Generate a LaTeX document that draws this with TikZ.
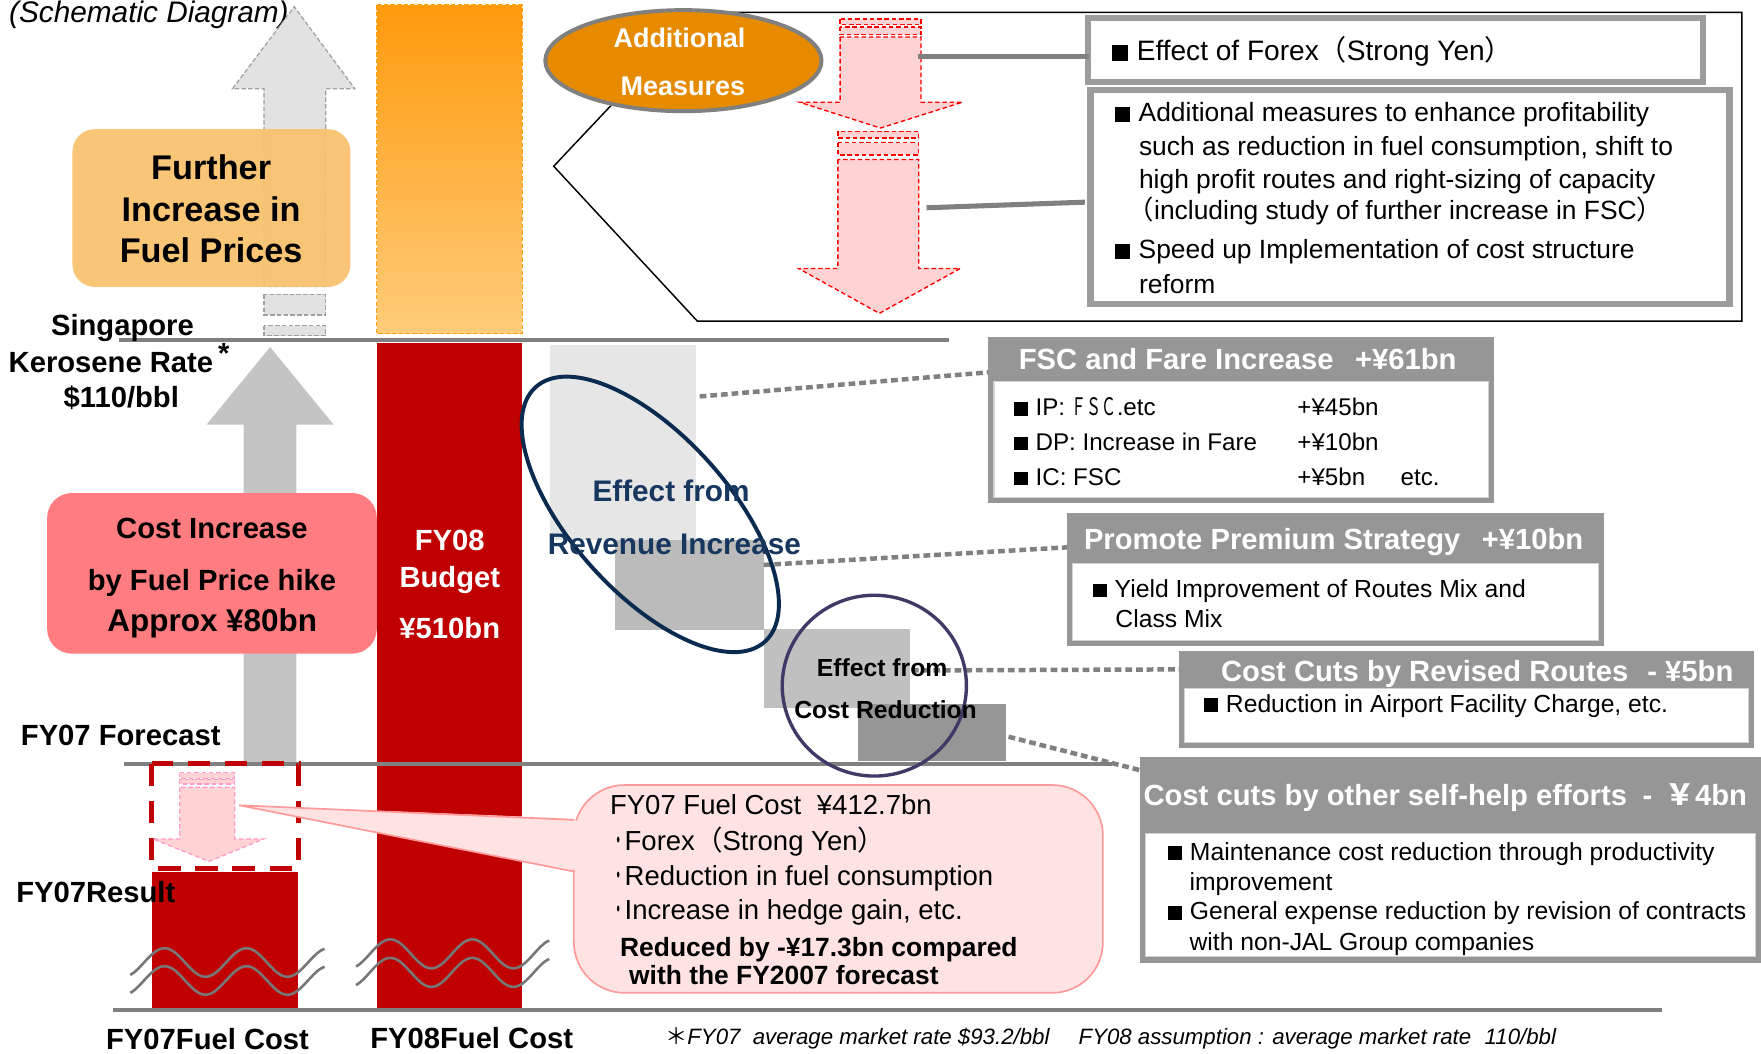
\documentclass[tikz,border=0pt]{standalone}
\usepackage{fontspec}
\setmainfont{Liberation Sans}
\newfontfamily\cjk{Noto Sans CJK JP}
\usepackage{graphicx}
\usetikzlibrary{shapes.geometric}
\definecolor{redbar}{HTML}{C00000}
\definecolor{orTop}{HTML}{FF9A0C}
\definecolor{orBot}{HTML}{FFCC7A}
\definecolor{orDash}{HTML}{FFA010}
\definecolor{furth}{HTML}{F9C26C}
\definecolor{lgray}{HTML}{E2E2E2}
\definecolor{dgray}{HTML}{A0A0A0}
\definecolor{arrgray}{HTML}{C4C4C4}
\definecolor{linegray}{HTML}{808080}
\definecolor{pinkbox}{HTML}{FF7C80}
\definecolor{gA}{HTML}{E6E6E6}
\definecolor{gB}{HTML}{BBBBBB}
\definecolor{gC}{HTML}{C0C0C0}
\definecolor{gD}{HTML}{969696}
\definecolor{navy}{HTML}{0B2A4F}
\definecolor{navytxt}{HTML}{17375E}
\definecolor{purp}{HTML}{3F3A66}
\definecolor{hdrgray}{HTML}{969696}
\definecolor{boxgray}{HTML}{9C9C9C}
\definecolor{amOrange}{HTML}{E68A00}
\definecolor{pinkfill}{HTML}{FFD3D3}
\definecolor{calfill}{HTML}{FFE3E3}
\definecolor{calline}{HTML}{FF9A9A}
\definecolor{smpink}{HTML}{FF99CC}
\definecolor{wavegray}{HTML}{777777}
\newcommand\fsz[1]{\fontsize{#1}{#1}\selectfont}
\newcommand\bul{\rule{0.56em}{0.56em}\hspace{0.32em}}
\newcommand\kdot{\makebox[13pt][l]{\hspace{2pt}\scalebox{0.45}[1]{\cjk ・}}}
\newcommand\headbox[5]{%
  \fill[hdrgray] (#1,#2) rectangle (#3,#4);
  \fill[white] (#1+5,#5) rectangle (#3-5,#4-5);
  \draw[gray!35, line width=1] (#1+5,#5) rectangle (#3-5,#4-5);}
\begin{document}
\begin{tikzpicture}[x=1pt,y=-1pt,
  lab/.style={inner sep=0, anchor=base, font=\bfseries\fsz{26}},
  wlab/.style={inner sep=0, anchor=base, font=\bfseries\fsz{26}, text=white},
  ln/.style={inner sep=0, anchor=base west, font=\fsz{22}},
  htitle/.style={inner sep=0, anchor=base west, font=\bfseries\fsz{26}, text=white},
  pinkarrow/.style={fill=pinkfill, draw=red, line width=1.2, dash pattern=on 4pt off 2.5pt},
  dotconn/.style={draw=linegray, line width=4, dash pattern=on 6pt off 3.5pt},
  solconn/.style={draw=linegray, line width=4.5},
  wavy/.style={draw=wavegray, line width=2.3},
  hline/.style={draw=linegray, line width=3.6},
  darrow/.style={fill=lgray, draw=dgray, line width=1.1, dash pattern=on 4pt off 2pt}]
\useasboundingbox (0,0) rectangle (1568,938);
\fill[white] (0,0) rectangle (1568,938);

% ---------- upper left ----------
\node[inner sep=0, anchor=base west, font=\itshape\fsz{26.5}] (schem) at (8,20) {(Schematic Diagram)};
\shade[top color=orTop, bottom color=orBot] (335.5,4.5) rectangle (465,297);
\draw[orDash, line width=1.2, dash pattern=on 4pt off 2pt] (335.5,4.5) rectangle (465,297);
\draw[darrow] (235,255) -- (235,79) -- (207,79) -- (262,6) -- (316,79) -- (290,79) -- (290,255) -- cycle;
\draw[darrow] (235,262) rectangle (290,280.5);
\draw[darrow] (235,290) rectangle (290,299);
\node[fill=furth, fill opacity=0.92, rounded corners=20, minimum width=247.5, minimum height=140.5, inner sep=0] (further) at (188.25,185.25) {};
\node[lab, font=\bfseries\fsz{30.5}] (fu1) at (188,159.4) {Further};
\node[lab, font=\bfseries\fsz{30.5}] (fu2) at (188,197) {Increase in};
\node[lab, font=\bfseries\fsz{30.5}] (fu3) at (188,233.6) {Fuel Prices};

\draw[hline] (106,302.5) -- (845,302.5);
\node[lab] (sing) at (109,298.8) {Singapore};
\node[lab] (kero) at (106,331.4) {Kerosene Rate\,\raisebox{8pt}{*}};
\node[lab] (rate) at (108,362.4) {\$110/bbl};

% lower gray arrow and cost increase box
\fill[arrgray] (217,680) -- (217,378) -- (184,378) -- (240.5,309) -- (297,378) -- (264,378) -- (264,680) -- cycle;
\node[fill=pinkbox, rounded corners=22, minimum width=293.5, minimum height=143, inner sep=0] (costinc) at (188.75,510.5) {};
\node[lab] (ci1) at (188.75,479.4) {Cost Increase};
\node[lab] (ci2) at (188.75,525.4) {by Fuel Price hike};
\node[lab, font=\bfseries\fsz{28}] (ci3) at (189,562) {Approx ¥80bn};

% FY08 bar
\fill[redbar] (335.5,305) rectangle (465,898);
\node[wlab] (b1) at (400.5,490.4) {FY08};
\node[wlab] (b2) at (400.5,523) {Budget};
\node[wlab] (b3) at (400.5,568.9) {¥510bn};

\draw[hline] (110,680) -- (990,680);
\node[lab] (fcst) at (107.5,663.9) {FY07 Forecast};

% step bars
\fill[gA] (490,307) rectangle (620,481);
\fill[gB] (548,481) rectangle (680,561);
\fill[gC] (680,560) rectangle (810,630);
\fill[gD] (764,627) rectangle (896,678);

% connector ends
\coordinate (c1s) at (623,353);  \coordinate (c1e) at (886,331);
\coordinate (c2s) at (680,503);  \coordinate (c2e) at (956,487);
\coordinate (c3s) at (812,597);  \coordinate (c3e) at (1052,596);
\coordinate (c4s) at (898,656);  \coordinate (c4e) at (1016,686);
\draw[dotconn] (c1s) -- (c1e);
\draw[dotconn] (c2s) -- (c2e);
\draw[dotconn] (c3s) -- (c3e);
\draw[dotconn] (c4s) -- (c4e);

\node[draw=navy, line width=3.5, ellipse, minimum width=305, minimum height=140, inner sep=0, rotate=-48] (revell) at (579,458) {};
\node[lab, text=navytxt, font=\bfseries\fsz{26.5}] (rv1) at (597.5,446.5) {Effect from};
\node[lab, text=navytxt, font=\bfseries\fsz{26.5}] (rv2) at (600.5,493.5) {Revenue Increase};
\node[draw=purp, line width=3, ellipse, minimum width=164, minimum height=161, inner sep=0] (costcirc) at (778.5,610.5) {};
\node[lab, font=\bfseries\fsz{22}] (cr1) at (785.5,602) {Effect from};
\node[lab, font=\bfseries\fsz{22}] (cr2) at (788.5,640) {Cost Reduction};

% ---------- right boxes ----------
\headbox{880}{300}{1330}{448}{340}
\node[htitle] (fscT) at (907,329.4) {FSC and Fare Increase\hspace{19pt}+¥61bn};
\node[ln, font=\fsz{21.5}] (fsc1) at (903,370) {\bul IP: \scalebox{0.62}[1]{\cjk ＦＳＣ}.etc};
\node[ln, font=\fsz{21.5}] (fsc2) at (903,401) {\bul DP: Increase in Fare};
\node[ln, font=\fsz{21.5}] (fsc3) at (903,432) {\bul IC: FSC};
\node[ln, font=\fsz{21.5}] (fsa1) at (1155,370) {+¥45bn};
\node[ln, font=\fsz{21.5}] (fsa2) at (1155,401) {+¥10bn};
\node[ln, font=\fsz{21.5}] (fsa3) at (1155,432) {+¥5bn};
\node[ln, font=\fsz{21.5}] (fsa4) at (1247,432) {etc.};

\headbox{950}{457}{1428}{575}{502}
\node[htitle] (prT) at (965,489.4) {Promote Premium Strategy\hspace{19pt}+¥10bn};
\node[ln] (pr1) at (973,532) {\bul Yield Improvement of Routes Mix and};
\node[ln] (pr2) at (993,559) {Class Mix};

\headbox{1050}{580}{1562}{666}{613}
\node[htitle] (rrT) at (1087,606.4) {Cost Cuts by Revised Routes\hspace{17pt}- ¥5bn};
\node[ln] (rr1) at (1072,634) {\bul Reduction in Airport Facility Charge, etc.};

\headbox{1015}{674}{1568}{857}{742}
\node[htitle] (ocT) at (1018,717.4) {Cost cuts by other self-help efforts\hspace{14pt}-\hspace{12pt}{\cjk ￥}4bn};
\node[ln] (oc1) at (1040,766) {\bul Maintenance cost reduction through productivity};
\node[ln] (oc2) at (1059,793) {improvement};
\node[ln] (oc3) at (1040,819) {\bul General expense reduction by revision of contracts};
\node[ln] (oc4) at (1059,846) {with non-JAL Group companies};

% ---------- additional measures frame ----------
\coordinate (fr0) at (544,94);
\draw[black, line width=1.3] (fr0) -- (493,148) -- (621,286) -- (1551,286) -- (1551,11) -- (620,11);
\node[ellipse, fill=amOrange, draw=linegray, line width=3.5, minimum width=246, minimum height=90, inner sep=0] (addm) at (608.5,54) {};
\node[wlab, font=\bfseries\fsz{24}] (am1) at (605,42.6) {Additional};
\node[wlab, font=\bfseries\fsz{24}] (am2) at (608,84.6) {Measures};

\draw[pinkarrow] (748,17) rectangle (820,22);
\draw[pinkarrow] (748,24) rectangle (820,31);
\draw[pinkarrow] (748,33) -- (748,91) -- (712,91) -- (784,114) -- (857,91) -- (820,91) -- (820,33) -- cycle;
\draw[pinkarrow] (746,117) rectangle (818,123);
\draw[pinkarrow] (746,127) rectangle (818,138);
\draw[pinkarrow] (746,142) -- (746,239) -- (711,239) -- (783,279) -- (855,239) -- (818,239) -- (818,142) -- cycle;

\draw[boxgray, line width=5.5, fill=white] (969,16) rectangle (1516,73);
\node[ln, font=\fsz{25}] (fx) at (990,54) {\bul Effect of Forex{\cjk （}Strong Yen{\cjk ）}};
\draw[boxgray, line width=5.5, fill=white] (971,80) rectangle (1540,271);
\node[ln, font=\fsz{23.5}] (ad1) at (993,108.5) {\bul Additional measures to enhance profitability};
\node[ln, font=\fsz{23.5}] (ad2) at (1014,138.5) {such as reduction in fuel consumption, shift to};
\node[ln, font=\fsz{23.5}] (ad3) at (1014,167.5) {high profit routes and right-sizing of capacity};
\node[ln, font=\fsz{23.5}] (ad4) at (1004,195.5) {{\cjk （}including study of further increase in FSC{\cjk ）}};
\node[ln, font=\fsz{23.5}] (ad5) at (993,230.5) {\bul Speed up Implementation of cost structure};
\node[ln, font=\fsz{23.5}] (ad6) at (1014,261.5) {reform};

\coordinate (g1s) at (817,50); \coordinate (g1e) at (970,50);
\coordinate (g2s) at (825,185); \coordinate (g2e) at (966,180);
\draw[solconn] (g1s) -- (g1e);
\draw[solconn] (g2s) -- (g2e);

% ---------- FY07 result ----------
\fill[redbar] (135,776) rectangle (265,898);
\draw[redbar, line width=4.5, dash pattern=on 20pt off 13pt] (135,680) rectangle (266,773);
\draw[fill=pinkfill, draw=smpink, line width=1.1, dash pattern=on 4pt off 2.5pt] (160,688) rectangle (209,693);
\draw[fill=pinkfill, draw=smpink, line width=1.1, dash pattern=on 4pt off 2.5pt] (160,694) rectangle (209,698);
\draw[fill=pinkfill, draw=smpink, line width=1.1, dash pattern=on 4pt off 2.5pt] (160,701) -- (160,747) -- (136,747) -- (186,767) -- (235,747) -- (209,747) -- (209,701) -- cycle;
\node[lab] (res) at (85.3,803.4) {FY07Result};

% callout
\coordinate (tip) at (213,717);
\fill[calfill] (tip) -- (515,729) -- (515,777) -- cycle;
\draw[calline, line width=1.5, fill=calfill, rounded corners=45] (511,699) rectangle (982,884);
\fill[calfill] (tip) -- (516,730.8) -- (516,775.2) -- cycle;
\draw[calline, line width=1.5] (511,730) -- (tip) -- (511,776);
\node[ln, font=\fsz{24.5}] (cl1) at (543,725) {FY07 Fuel Cost\hspace{14pt}¥412.7bn};
\node[ln, font=\fsz{24.5}] (cl2) at (543,757) {\kdot Forex{\cjk （}Strong Yen{\cjk ）}};
\node[ln, font=\fsz{24.5}] (cl3) at (543,788) {\kdot Reduction in fuel consumption};
\node[ln, font=\fsz{24.5}] (cl4) at (543,819) {\kdot Increase in hedge gain, etc.};
\node[ln, font=\bfseries\fsz{23.5}] (cl5) at (552,852) {Reduced by -¥17.3bn compared};
\node[ln, font=\bfseries\fsz{23.5}] (cl6) at (560,877) {with the FY2007 forecast};

% waves
\draw[wavy] plot[domain=116:289, samples=120, smooth] (\x,{857-12.7*cos(4.93151*(\x-146.5))});
\draw[wavy] plot[domain=116:289, samples=120, smooth] (\x,{873-12.7*cos(4.93151*(\x-146.5))});
\draw[wavy] plot[domain=317:489, samples=120, smooth] (\x,{849.3-12.9*cos(4.93151*(\x-347.6))});
\draw[wavy] plot[domain=317:489, samples=120, smooth] (\x,{865.8-12.9*cos(4.93151*(\x-347.6))});

\draw[hline] (101,899) -- (1480,899);
\node[lab] (fc7) at (184.8,934.5) {FY07Fuel Cost};
\node[lab] (fc8) at (420,933.4) {FY08Fuel Cost};
\node[ln, font=\itshape\fsz{19.8}] (foot) at (592,930) {{\cjk\upshape ＊}FY07\hspace{11pt}average market rate \$93.2/bbl\hspace{26pt}FY08 assumption : average market rate\hspace{12pt}110/bbl};
\end{tikzpicture}
\end{document}
